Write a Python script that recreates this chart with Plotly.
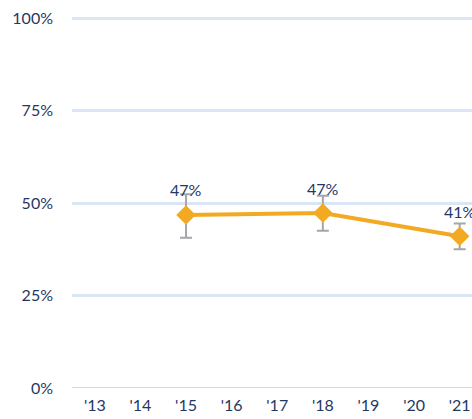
import plotly.graph_objects as go

# Data
years = ["'13", "'14", "'15", "'16", "'17", "'18", "'19", "'20", "'21"]
point_years = ["'15", "'18", "'21"]
share = [46.8, 47.3, 41.0]
err_plus = [5.6, 4.7, 3.5]
err_minus = [6.2, 4.8, 3.5]
labels = ["47%", "47%", "41%"]
y_ticks = [0, 25, 50, 75, 100]
y_tick_text = ["0%", "25%", "50%", "75%", "100%"]

NAVY = "#1F3864"
ORANGE = "#F2AA23"

fig = go.Figure()
fig.add_trace(go.Scatter(
    x=point_years, y=share,
    mode="lines+markers",
    line=dict(color=ORANGE, width=4),
    marker=dict(symbol="diamond", size=15, color=ORANGE),
    error_y=dict(type="data", symmetric=False, array=err_plus, arrayminus=err_minus,
                 color="#A6A6A6", thickness=2, width=6),
    showlegend=False,
    hoverinfo="skip",
    cliponaxis=False,
))

for yr, v, t in zip(point_years, share, labels):
    fig.add_annotation(x=yr, y=v, text=t, showarrow=False, yshift=25,
                       font=dict(size=16, color=NAVY))

fig.update_layout(
    width=472, height=419,
    margin=dict(l=72, r=0, t=17, b=31),
    plot_bgcolor="white", paper_bgcolor="white",
    font=dict(family="Lato, Open Sans, sans-serif", size=16, color=NAVY),
    xaxis=dict(
        type="category", categoryorder="array", categoryarray=years,
        range=[-0.5, 8.27], showgrid=False, zeroline=False,
        showline=False, ticks="", ticklabelstandoff=6, automargin=False,
        tickfont=dict(size=16, color=NAVY),
    ),
    yaxis=dict(
        range=[0, 100.3], tickvals=y_ticks, ticktext=y_tick_text,
        showgrid=True, gridcolor="#DAE6F5", gridwidth=3,
        zeroline=False, showline=False, ticks="", automargin=False,
        ticklabelstandoff=18, tickfont=dict(size=16, color=NAVY),
    ),
)

# gray baseline at 0%
fig.add_shape(type="line", xref="paper", yref="y", x0=0, x1=1, y0=0, y1=0,
              line=dict(color="#D9D9D9", width=2), layer="above")

# drop the browser's default body margin so the chart sits at the page corner
fig.write_html("out.html", config={"displayModeBar": False},
               post_script="document.body.style.margin='0';")
